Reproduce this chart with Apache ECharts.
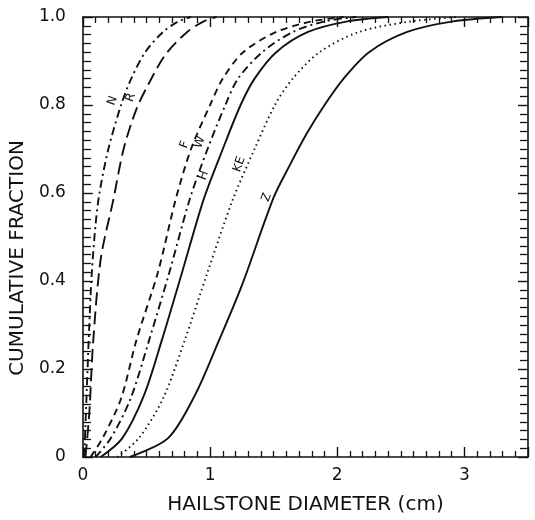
<!DOCTYPE html>
<html>
<head>
<meta charset="utf-8">
<script src="https://cdn.jsdelivr.net/npm/echarts@6/dist/echarts.min.js"></script>
<style>
  html, body { margin: 0; padding: 0; background: #fff; }
  #chart { width: 535px; height: 520px; }
</style>
</head>
<body>
<div id="chart"></div>
<script>
// Cumulative size distributions of hailstone diameter (cm) for several sites.
const curveN  = [[0.01,0],[0.03,0.15],[0.05,0.3],[0.07,0.42],[0.1,0.53],[0.13,0.6],[0.2,0.7],[0.3,0.8],[0.38,0.86],[0.49,0.92],[0.63,0.966],[0.75,0.99],[0.85,1.0]];
const curveR  = [[0.02,0],[0.05,0.1],[0.08,0.26],[0.14,0.45],[0.24,0.586],[0.32,0.7],[0.42,0.79],[0.52,0.85],[0.65,0.915],[0.82,0.966],[0.95,0.99],[1.05,1.0]];
const curveF  = [[0.06,0],[0.155,0.043],[0.3,0.133],[0.42,0.265],[0.59,0.42],[0.73,0.586],[0.85,0.7],[1.0,0.8],[1.1,0.86],[1.26,0.92],[1.52,0.966],[1.8,0.99],[2.05,1.0]];
const curveW  = [[0.1,0],[0.22,0.043],[0.375,0.133],[0.52,0.265],[0.68,0.42],[0.84,0.586],[0.98,0.7],[1.12,0.8],[1.22,0.86],[1.41,0.92],[1.65,0.966],[1.9,0.99],[2.15,1.0]];
const curveH  = [[0.14,0],[0.31,0.043],[0.48,0.14],[0.62,0.265],[0.78,0.42],[0.95,0.586],[1.1,0.7],[1.24,0.8],[1.35,0.86],[1.52,0.92],[1.77,0.966],[2.08,0.99],[2.4,1.0]];
const curveKE = [[0.27,0],[0.44,0.043],[0.63,0.133],[0.8,0.265],[0.98,0.42],[1.18,0.586],[1.35,0.7],[1.51,0.8],[1.65,0.86],[1.86,0.92],[2.17,0.966],[2.58,0.99],[2.95,1.0]];
const curveZ  = [[0.37,0],[0.67,0.043],[0.88,0.14],[1.07,0.265],[1.25,0.39],[1.5,0.59],[1.63,0.665],[1.76,0.735],[1.9,0.8],[2.05,0.86],[2.25,0.92],[2.55,0.966],[2.91,0.99],[3.3,1.0]];

const curveNames = ['N', 'R', 'F', 'W', 'H', 'KE', 'Z'];
// where each curve's letter sits, in (diameter, fraction)
const labelAnchors = [[0.234,0.81],[0.375,0.817],[0.80,0.71],[0.92,0.715],[0.95,0.64],[1.23,0.665],[1.445,0.59]];

const xTickLabels = ['0', '1', '2', '3'];
const yTickLabels = ['0', '0.2', '0.4', '0.6', '0.8', '1.0'];

const FONT = 'DejaVu Sans';
const INK = '#111';

const dashDot = [8, 4, 2, 4];
const styles = {
  N:  { type: dashDot },
  R:  { type: [13, 6] },
  F:  { type: [7, 5] },
  W:  { type: dashDot },
  H:  { type: 'solid' },
  KE: { type: [1.5, 3.5] },
  Z:  { type: 'solid' }
};
const curves = { N: curveN, R: curveR, F: curveF, W: curveW, H: curveH, KE: curveKE, Z: curveZ };

const chart = echarts.init(document.getElementById('chart'));

function frameAxis(pos, isX) {
  return {
    type: 'value',
    position: pos,
    min: 0,
    max: isX ? 3.5 : 1,
    interval: isX ? 1 : 0.2,
    axisLine: { show: true, onZero: false, lineStyle: { color: INK, width: 1.6 } },
    axisTick: { show: true, inside: true, length: 10, lineStyle: { color: INK, width: 1.4 } },
    minorTick: { show: true, splitNumber: 10, length: isX ? 6 : 8, lineStyle: { color: INK, width: 1.3 } },
    splitLine: { show: false },
    minorSplitLine: { show: false },
    axisLabel: { show: false }
  };
}

const xBottom = Object.assign(frameAxis('bottom', true), {
  name: 'HAILSTONE DIAMETER (cm)',
  nameLocation: 'middle',
  nameGap: 38,
  nameTextStyle: { fontFamily: FONT, fontSize: 20, color: INK },
  axisLabel: {
    show: true, margin: 10, showMaxLabel: false,
    fontFamily: FONT, fontSize: 17, color: INK,
    formatter: v => xTickLabels[Math.round(v)] || ''
  }
});
const xTop = frameAxis('top', true);

const yLeft = Object.assign(frameAxis('left', false), {
  name: 'CUMULATIVE FRACTION',
  nameLocation: 'middle',
  nameGap: 47,
  nameRotate: 90,
  nameTextStyle: { fontFamily: FONT, fontSize: 20, color: INK, padding: [0, 42, 0, 0] },
  axisLabel: {
    show: true, margin: 17,
    fontFamily: FONT, fontSize: 17, color: INK,
    formatter: v => yTickLabels[Math.round(v * 5)] || ''
  }
});
const yRight = frameAxis('right', false);

chart.setOption({
  animation: false,
  backgroundColor: '#fff',
  grid: { left: 80, right: 7, top: 17, bottom: 61, containLabel: false },
  xAxis: [xBottom, xTop],
  yAxis: [yLeft, yRight],
  series: curveNames.map(n => ({
    name: n,
    type: 'line',
    xAxisIndex: 0,
    yAxisIndex: 0,
    data: curves[n],
    smooth: 0.3,
    showSymbol: false,
    lineStyle: Object.assign({ color: INK, width: 1.9 }, styles[n])
  }))
});

// curve letters, placed at data coordinates and tilted along the curves
chart.setOption({
  graphic: curveNames.map((n, i) => {
    const p = chart.convertToPixel({ xAxisIndex: 0, yAxisIndex: 0 }, labelAnchors[i]);
    return {
      type: 'text',
      x: p[0], y: p[1],
      rotation: 70 * Math.PI / 180,
      style: {
        text: n, fill: INK,
        font: '12px "' + FONT + '"',
        align: 'center', verticalAlign: 'middle'
      }
    };
  })
});
</script>
</body>
</html>
